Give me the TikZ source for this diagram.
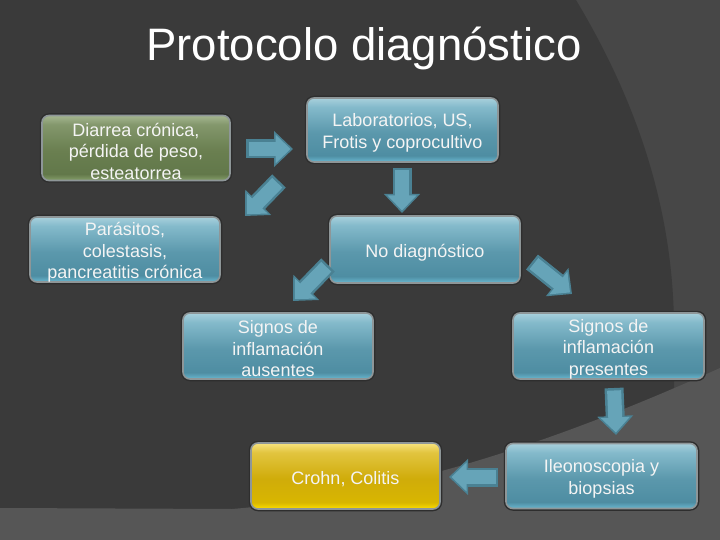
\documentclass[tikz,border=0pt]{standalone}
\usepackage{fontspec}
\setmainfont{Liberation Sans}
\usetikzlibrary{arrows.meta}
\definecolor{bgmid}{HTML}{474747}
\definecolor{bgdark}{HTML}{3A3A3A}
\definecolor{bglight}{HTML}{565656}
\definecolor{bA}{HTML}{6AB9D2}
\definecolor{bB}{HTML}{4E8DA2}
\definecolor{bC}{HTML}{5B98AC}
\definecolor{bD}{HTML}{84BACB}
\definecolor{bE}{HTML}{A8D0DC}
\definecolor{gA}{HTML}{86A06A}
\definecolor{gB}{HTML}{62784A}
\definecolor{gC}{HTML}{6A7F50}
\definecolor{gD}{HTML}{83976C}
\definecolor{gE}{HTML}{A5B68F}
\definecolor{yA}{HTML}{FFE000}
\definecolor{yB}{HTML}{D8B600}
\definecolor{yC}{HTML}{D0AC0A}
\definecolor{yD}{HTML}{E2C540}
\definecolor{yE}{HTML}{F6E27E}
\definecolor{boxedge}{HTML}{8E9698}
\definecolor{boxshadow}{HTML}{2E2E2E}
\definecolor{arredge}{HTML}{4A8193}
\definecolor{arrfill}{HTML}{66A4B8}
\definecolor{txt}{HTML}{F4F4F4}
\pgfdeclareverticalshading{blueshade}{100bp}{color(0bp)=(bA); color(25bp)=(bA); color(30bp)=(bB); color(48bp)=(bC); color(68bp)=(bD); color(75bp)=(bE); color(100bp)=(bE)}
\pgfdeclareverticalshading{greenshade}{100bp}{color(0bp)=(gA); color(25bp)=(gA); color(30bp)=(gB); color(48bp)=(gC); color(68bp)=(gD); color(75bp)=(gE); color(100bp)=(gE)}
\pgfdeclareverticalshading{yellowshade}{100bp}{color(0bp)=(yA); color(25bp)=(yA); color(30bp)=(yB); color(48bp)=(yC); color(68bp)=(yD); color(75bp)=(yE); color(100bp)=(yE)}
\tikzset{
  box/.style={rounded corners=7pt, draw=boxedge, line width=1.6pt,
    preaction={draw=boxshadow, line width=4.5pt},
    minimum width=190pt, minimum height=65pt, inner sep=0pt},
  boxtext/.style={align=center, text=txt, font=\fontsize{18}{21.5}\selectfont,
    inner sep=0pt, yshift=-3pt},
  bluebox/.style={box, shading=blueshade},
  greenbox/.style={box, shading=greenshade},
  yellowbox/.style={box, shading=yellowshade},
  arrout/.style={draw=arredge, line width=19pt, -{Triangle[length=19pt,width=35pt]}},
  arrin/.style={draw=arrfill, line width=14pt, -{Triangle[length=15pt,width=28pt]}, shorten >=2.5pt, shorten <=2.5pt},
  titletext/.style={text=white, font=\fontsize{45.5}{50}\selectfont, inner sep=0pt}
}
\newcommand\blockarrow[2]{\draw[arrout] (#1) -- (#2); \draw[arrin] (#1) -- (#2);}
\begin{document}
\begin{tikzpicture}[x=1pt, y=-1pt]
\useasboundingbox (0,0) rectangle (720,540);
% background
\fill[bgmid] (0,0) rectangle (720,540);
\fill[bgdark] (0,0) -- (576,0) .. controls (630,90) and (674,200) .. (674,330) -- (674,540) -- (0,540) -- cycle;
\fill[bglight] (0,508) -- (232,509) .. controls (400,495) and (560,440) .. (720,368) -- (720,540) -- (0,540) -- cycle;
% title
\node[titletext, anchor=base] (title) at (364,61) {Protocolo diagnóstico};
% boxes
\node[greenbox, minimum width=188pt, label={[boxtext]center:{Diarrea crónica,\\pérdida de peso,\\esteatorrea}}] (diarrea) at (136,148) {};
\node[bluebox, minimum width=191pt, minimum height=64pt, label={[boxtext]center:{Laboratorios, US,\\Frotis y coprocultivo}}] (lab) at (402.5,130) {};
\node[bluebox, label={[boxtext]center:{Parásitos,\\colestasis,\\pancreatitis crónica}}] (paras) at (125,249.5) {};
\node[bluebox, minimum height=67pt, label={[boxtext]center:{No diagnóstico}}] (nodiag) at (425,249.5) {};
\node[bluebox, minimum height=66pt, label={[boxtext]center:{Signos de\\inflamación\\ausentes}}] (ausentes) at (278,346) {};
\node[bluebox, minimum width=191pt, minimum height=66pt, label={[boxtext]center:{Signos de\\inflamación\\presentes}}] (presentes) at (608.5,346) {};
\node[yellowbox, minimum width=189pt, minimum height=66pt, label={[boxtext]center:{Crohn, Colitis}}] (crohn) at (345.5,476) {};
\node[bluebox, minimum width=191pt, label={[boxtext]center:{Ileonoscopia y\\biopsias}}] (ileo) at (601.5,476) {};
% arrow end points
\coordinate (a1s) at (246,149); \coordinate (a1e) at (293,149);
\coordinate (a2s) at (279,181); \coordinate (a2e) at (245,216);
\coordinate (a3s) at (402,168); \coordinate (a3e) at (402,213);
\coordinate (a4s) at (328,265); \coordinate (a4e) at (293,301);
\coordinate (a5s) at (532,262); \coordinate (a5e) at (572,294);
\coordinate (a6s) at (614,388); \coordinate (a6e) at (616,435);
\coordinate (a7s) at (498,477); \coordinate (a7e) at (449,477);
\blockarrow{a1s}{a1e}
\blockarrow{a2s}{a2e}
\blockarrow{a3s}{a3e}
\blockarrow{a4s}{a4e}
\blockarrow{a5s}{a5e}
\blockarrow{a6s}{a6e}
\blockarrow{a7s}{a7e}
\end{tikzpicture}
\end{document}
